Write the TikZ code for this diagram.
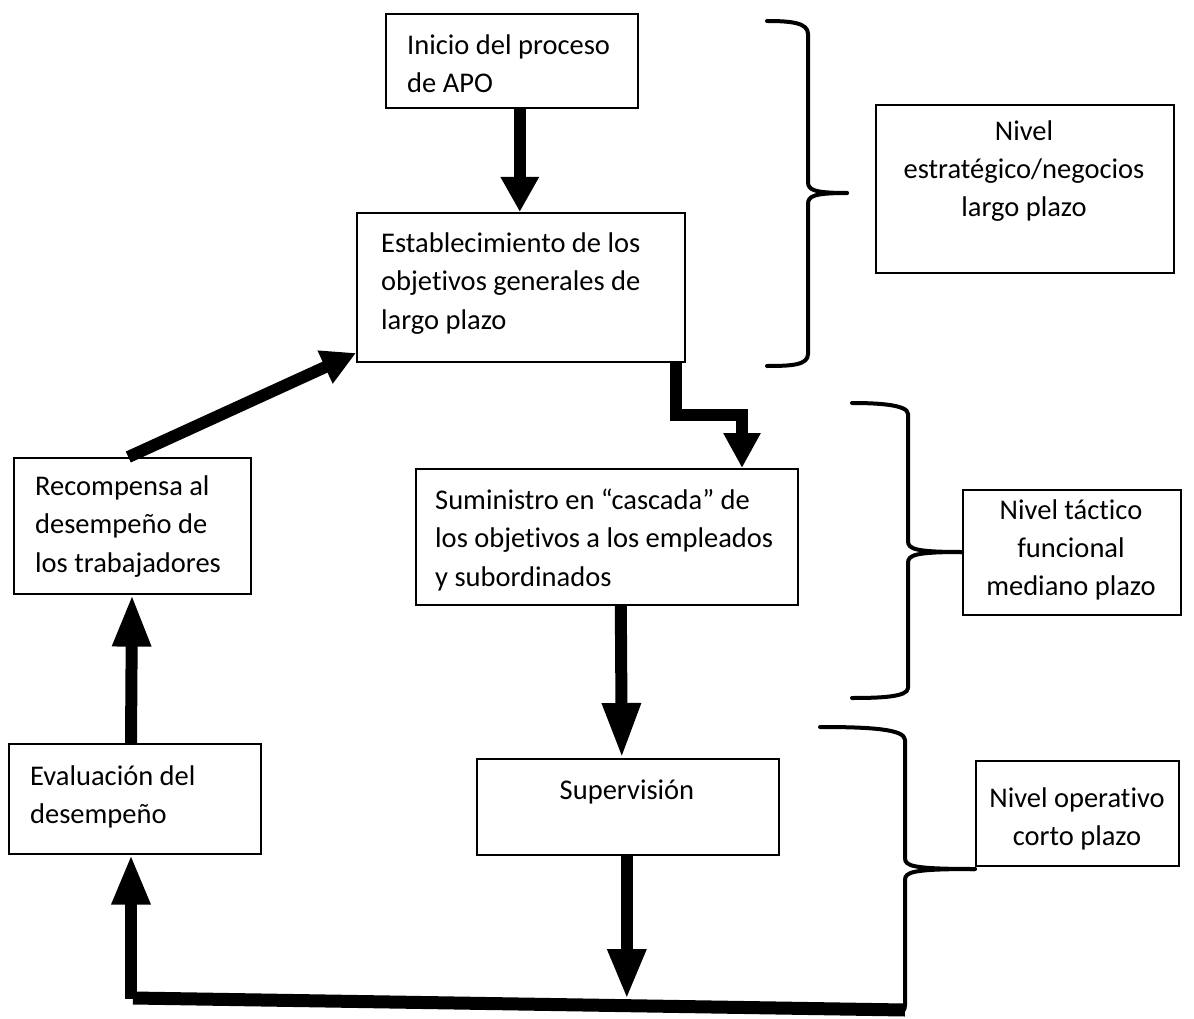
\documentclass[tikz,border=0pt]{standalone}
\usepackage{fontspec}
\setmainfont{Carlito}[Ligatures=NoCommon]
\usetikzlibrary{arrows.meta,calc}
\begin{document}
\begin{tikzpicture}[x=1pt,y=-1pt,
  box/.style={draw, line width=1.6pt, rectangle, inner sep=0pt, anchor=north west},
  txt/.style={inner sep=0pt, anchor=north west, align=left, font=\fontsize{28.5}{38.5}\selectfont},
  ctxt/.style={inner sep=0pt, anchor=north, align=center, font=\fontsize{28.5}{38}\selectfont},
  arr/.style 2 args={line width=12pt, -{Triangle[length=#1pt,width=#2pt]}},
  brace/.style={line width=4pt, line cap=round, line join=round}
]
\useasboundingbox (0,0) rectangle (1194,1019);

% boxes
\node[box, minimum width=252pt, minimum height=94pt] (b1) at (385,13) {};
\node[box, minimum width=328pt, minimum height=149pt] (b2) at (356,212) {};
\node[box, minimum width=298pt, minimum height=168pt] (bE) at (875,104) {};
\node[box, minimum width=237pt, minimum height=136pt] (bR) at (13,457) {};
\node[box, minimum width=382pt, minimum height=136pt] (bS) at (415,468) {};
\node[box, minimum width=218pt, minimum height=125pt] (bT) at (962,489) {};
\node[box, minimum width=302pt, minimum height=96pt] (bSup) at (476,758) {};
\node[box, minimum width=252pt, minimum height=110pt] (bEv) at (8,743) {};
\node[box, minimum width=203pt, minimum height=105pt] (bO) at (975,760) {};

% texts
\node[txt] (t1) at (407,27) {\strut Inicio del proceso\\de APO};
\node[txt] (t2) at (381,225) {\strut Establecimiento de los\\objetivos generales de\\largo plazo};
\node[ctxt] (tE) at (1024,114) {\strut Nivel\\estratégico/negocios\\largo plazo};
\node[txt] (tR) at (35,468) {\strut Recompensa al\\desempeño de\\los trabajadores};
\node[txt] (tS) at (435,482) {\strut Suministro en “cascada” de\\los objetivos a los empleados\\y subordinados};
\node[ctxt] (tT) at (1071,493) {\strut Nivel táctico\\funcional\\mediano plazo};
\node[ctxt] (tSup) at (627,773) {\strut Supervisión};
\node[txt] (tEv) at (30,758) {\strut Evaluación del\\desempeño};
\node[ctxt] (tO) at (1077,781) {\strut Nivel operativo\\corto plazo};

% braces
\draw[brace] (767,21) .. controls (792,21) and (808,23) .. (808,34) -- (808,182)
  .. controls (808,190) and (814,193) .. (847,193);
\draw[brace] (847,193) .. controls (814,193) and (808,196) .. (808,204) -- (808,354)
  .. controls (808,365) and (792,366) .. (767,366);
\draw[brace] (852,403) .. controls (880,403) and (908,405) .. (908,414) -- (908,541)
  .. controls (908,549) and (915,552) .. (bT.west |- 0,552);
\draw[brace] (bT.west |- 0,552) .. controls (915,552) and (908,555) .. (908,563) -- (908,688)
  .. controls (908,697) and (880,698) .. (852,698);
\draw[brace] (820,727) .. controls (870,727) and (905,729) .. (905,740) -- (905,858)
  .. controls (905,866) and (912,869) .. (bO.west |- 0,869);
\draw[brace] (bO.west |- 0,869) .. controls (912,869) and (905,872) .. (905,880) -- (905,1005)
  .. controls (905,1011) and (902,1013) .. (897,1013);

% connectors
\coordinate (a1s) at ($(b1.south)+(8,0)$);
\draw[arr={35}{36}] (a1s) -- (a1s |- b2.north);

\coordinate (a2s) at ($(b2.south east)+(-10,0)$);
\coordinate (a2e) at (742,0 |- bS.north);
\draw[arr={35}{35}, line join=miter] (a2s) -- (a2s |- 0,415) -| (a2e);

\coordinate (a3s) at ($(bS.south)+(14,0)$);
\draw[arr={55}{36}] (a3s) -- ($(bSup.north)+(-6,0)$);

\coordinate (lineL) at (133,998);
\coordinate (lineR) at (905,1010);
\draw[line width=13pt] (lineL) -- (lineR);

\coordinate (a4s) at ($(bSup.south)+(-1,0)$);
\draw[arr={50}{36}] (a4s) -- (a4s |- 0,999);

\coordinate (a6s) at (131,999);
\draw[arr={50}{36}] (a6s) -- (a6s |- bEv.south);

\coordinate (a7s) at (131,0 |- bEv.north);
\draw[arr={52}{36}] (a7s) -- (132,0 |- bR.south);

\coordinate (a8s) at ($(bR.north)+(-4,0)$);
\draw[arr={34}{34}] (a8s) -- (b2.west |- 0,353);
\end{tikzpicture}
\end{document}
